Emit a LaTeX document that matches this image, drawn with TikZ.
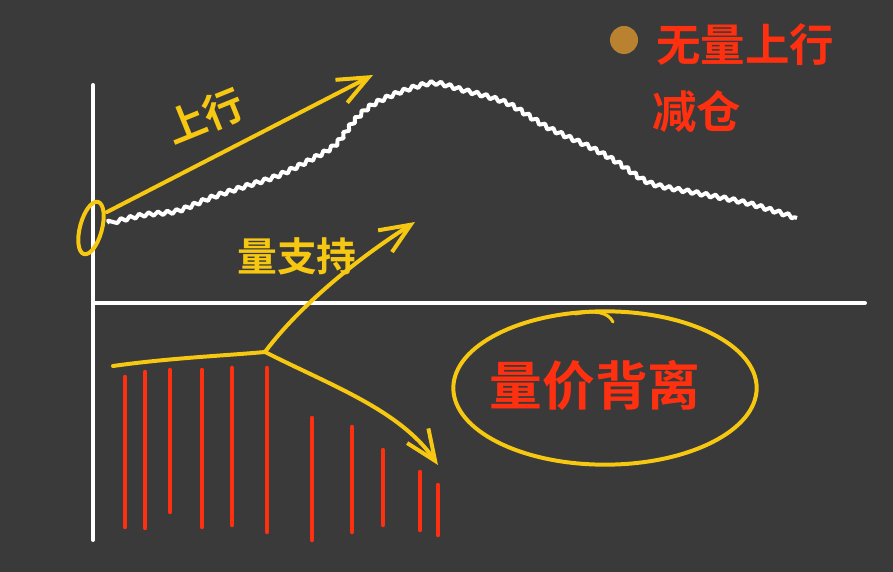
\documentclass[tikz,border=0pt]{standalone}
\usepackage{fontspec}
\newfontfamily\cjk{Noto Sans CJK SC}[BoldFont={Noto Sans CJK SC Bold}]
\usetikzlibrary{arrows.meta, shapes.geometric, decorations.pathmorphing}
\definecolor{board}{RGB}{58,58,58}
\definecolor{chalkyellow}{RGB}{246,200,18}
\definecolor{chalkred}{RGB}{255,48,16}
\definecolor{dotorange}{RGB}{184,130,48}
\tikzset{
  axis/.style={white, line width=3.4pt, line cap=round},
  price/.style={white, line width=3.4pt, line join=round,
    decorate, decoration={zigzag, segment length=8pt, amplitude=1.7pt}},
  yline/.style={chalkyellow, line width=3.4pt, line cap=round, line join=round},
  yarrow/.style={yline, -{Straight Barb[length=26pt, width=22pt, line width=3.4pt]}},
  volbar/.style={chalkred, line width=3.8pt, line cap=round},
  ylabel/.style={text=chalkyellow, font=\cjk\bfseries\fontsize{34}{38}\selectfont},
  rlabel/.style={text=chalkred, font=\cjk\bfseries\fontsize{38}{42}\selectfont}
}

\begin{document}
\begin{tikzpicture}[x=0.03cm, y=-0.03cm]
  % Board
  \fill[board] (0,0) rectangle (893,572);

  % Axes
  \draw[axis] (93,85) -- (93,540);
  \draw[axis] (93,303) -- (865,303);

  % Price curve
  \draw[price] plot[smooth, tension=0.5] coordinates {
    (110,223) (143,215) (177,211) (210,198) (243,187) (277,176)
    (310,160) (335,145) (355,120) (372,105) (400,92) (433,83)
    (463,90) (507,103) (547,127) (590,147) (617,162) (650,183)
    (697,193) (747,203) (797,218)};

  % Start ring and rising arrow
  \node[ellipse, draw=chalkyellow, line width=3.4pt, minimum width=0.66cm,
    minimum height=1.62cm, rotate=-15] (startring) at (91,228) {};
  \coordinate (upstart) at (107,212);
  \coordinate (uptip) at (373,75);
  \draw[yarrow] (upstart) -- (uptip);
  \node[ylabel, rotate=22] (upword) at (205,116) {上行};

  % Volume bars
  \foreach \x/\top/\bot in {125/377/527, 145/372/528, 170/370/512, 202/370/527,
      232/368/525, 267/368/532, 312/418/540, 352/427/532, 383/450/525,
      420/472/530, 438/485/535}
    \draw[volbar] (\x,\top) -- (\x,\bot);

  % Volume line splitting in two
  \coordinate (volstart) at (113,366);
  \coordinate (branch) at (265,352);
  \coordinate (supporttip) at (415,222);
  \coordinate (fadetip) at (438,465);
  \draw[yline] (volstart) .. controls (170,358) and (220,356) .. (branch);
  \draw[yarrow] (branch) .. controls (290,318) and (340,270) .. (supporttip);
  \draw[yarrow] (branch) .. controls (330,385) and (400,410) .. (fadetip);
  \node[ylabel] (volword) at (297,256) {量支持};

  % Divergence
  \node[ellipse, draw=chalkyellow, line width=3.4pt, minimum width=9.1cm,
    minimum height=4.6cm, inner sep=0pt] (diverge) at (605,388) {};
  \node[rlabel, font=\cjk\bfseries\fontsize{45}{50}\selectfont] (divword) at (595,385) {量价背离};
  \draw[yline, line width=2.6pt] (575,314) .. controls (595,310) and (608,312) .. (613,322);

  % Note at the top right
  \node[circle, fill=dotorange, minimum size=0.84cm, inner sep=0pt] (dot) at (624,40) {};
  \node[rlabel, anchor=west] (noteone) at (652,45) {无量上行};
  \node[rlabel, anchor=west] (notetwo) at (648,112) {减仓};
\end{tikzpicture}
\end{document}
